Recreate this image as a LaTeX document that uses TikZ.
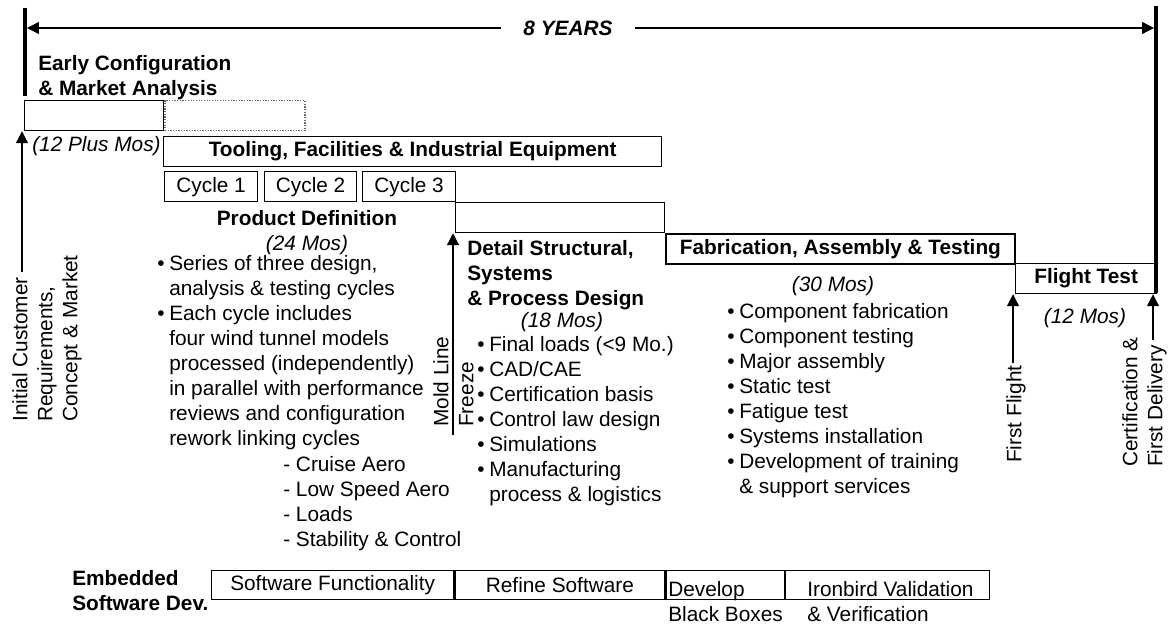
\documentclass[tikz,border=0pt]{standalone}
\usepackage{fontspec}
\setmainfont{Liberation Sans}
\usepackage{tikz}
\usetikzlibrary{arrows.meta,calc}

\newcommand{\fs}{\fontsize{14.8}{17.8}\selectfont}
\newcommand{\bul}{\makebox[0.3cm][l]{\textbullet}}
\newcommand{\ind}{\hspace*{0.3cm}}

\tikzset{
	box/.style={draw, line width=0.9pt, inner sep=0pt, minimum height=0.75cm, anchor=north west, font=\fs},
	dotbox/.style={box, densely dotted, draw=black!60},
	txt/.style={inner sep=0pt, anchor=north west, align=left, font=\fs},
	bold/.style={font=\fs\bfseries},
	ital/.style={font=\fs\itshape},
	arr/.style={line width=0.9pt, -{Triangle[length=8.5pt,width=8.5pt]}},
	bar/.style={line width=2.85pt}
}

\begin{document}
\begin{tikzpicture}[font=\fs]
		\useasboundingbox (0,0) rectangle (29.25,15.65);
		\draw[bar] (0.625,15.45) -- (0.625,13.25);
		\draw[bar] (28.9,15.5) -- (28.9,8.325);
		\coordinate (lefttick) at (0.675,14.95);
		\coordinate (righttick) at (28.85,14.95);
		\node[inner xsep=0.55cm, inner ysep=0pt, font=\fs\bfseries\itshape] (years) at (14.2,14.95) {8 YEARS};
		\draw[arr] (years.west) -- (lefttick);
		\draw[arr] (years.east) -- (righttick);

		\node[box, minimum width=3.475cm] (early) at (0.6,13.15) {};
		\node[dotbox, minimum width=3.5cm] (earlydot) at (early.north east) {};
		\node[txt, bold] (earlytxt) at (0.95,14.275) {Early Configuration\\\& Market Analysis};
		\node[txt, ital] (earlymos) at (0.8,12.25) {(12 Plus Mos)};

		\node[box, bold, minimum width=12.45cm] (tooling) at (4.075,12.25) {Tooling, Facilities \& Industrial Equipment};
		\node[box, minimum width=2.325cm] (cyc1) at (4.1,11.375) {Cycle 1};
		\node[box, minimum width=2.3cm] (cyc2) at (6.6,11.375) {Cycle 2};
		\node[box, minimum width=2.325cm] (cyc3) at (9.05,11.375) {Cycle 3};
		\node[box, minimum width=5.225cm] (detail) at (11.375,10.6) {};
		\node[box, bold, minimum width=8.725cm] (fab) at (detail.south east) {Fabrication, Assembly \& Testing};
		\node[box, bold, minimum width=3.525cm] (flight) at (25.375,9.075) {Flight Test};

		\node[txt, anchor=north, align=center] (pdtxt) at (7.675,10.4) {\textbf{Product Definition}\\\textit{(24 Mos)}};
		\node[txt] (pdlist) at (3.925,9.275) {\bul Series of three design,\\\ind analysis \& testing cycles\\\bul Each cycle includes\\\ind four wind tunnel models\\\ind processed (independently)\\\ind in parallel with performance\\\ind reviews and configuration\\\ind rework linking cycles};
		\node[txt] (pdaero) at (7.075,4.25) {- Cruise Aero\\- Low Speed Aero\\- Loads\\- Stability \& Control};

		\node[txt, bold] (dettxt) at (11.675,9.65) {Detail Structural,\\Systems\\\& Process Design};
		\node[txt, ital, anchor=north] (detmos) at (14.05,7.85) {(18 Mos)};
		\node[txt] (detlist) at (11.925,7.25) {\bul Final loads (<9 Mo.)\\\bul CAD/CAE\\\bul Certification basis\\\bul Control law design\\\bul Simulations\\\bul Manufacturing\\\ind process \& logistics};

		\node[txt, ital, anchor=north] (fabmos) at (20.825,8.75) {(30 Mos)};
		\node[txt] (fablist) at (18.175,8.075) {\bul Component fabrication\\\bul Component testing\\\bul Major assembly\\\bul Static test\\\bul Fatigue test\\\bul Systems installation\\\bul Development of training\\\ind \& support services};
		\node[txt, ital, anchor=north] (flightmos) at (27.125,7.95) {(12 Mos)};

		\node[txt, rotate=90] (icrtxt) at (0.3,5.1) {Initial Customer\\Requirements,\\Concept \& Market};
		\node[txt, rotate=90] (mlftxt) at (10.825,4.975) {Mold Line\\Freeze};
		\node[txt, rotate=90] (fftxt) at (25.15,4.075) {First Flight};
		\node[txt, rotate=90] (cfdtxt) at (28.05,3.975) {Certification \&\\First Delivery};

		\coordinate (icr) at (0.55,8.85);
		\coordinate (mlf) at (11.325,4.775);
		\coordinate (ff) at (25.325,6.575);
		\coordinate (cfd) at (28.825,7.15);
		\draw[arr] (icr) -- (icr |- early.south);
		\draw[arr] (mlf) -- (mlf |- detail.south);
		\draw[arr] (ff) -- (ff |- flight.south);
		\draw[arr] (cfd) -- (cfd |- flight.south);

		\node[txt, bold] (swtxt) at (1.8,1.4) {Embedded\\Software Dev.};
		\node[box, minimum width=6.05cm, minimum height=0.725cm] (swfunc) at (5.275,1.4) {Software Functionality};
		\node[box, minimum width=5.25cm, minimum height=0.725cm] (refine) at (swfunc.north east) {Refine Software};
		\node[box, minimum width=2.95cm, minimum height=0.725cm] (blackbox) at (refine.north east) {};
		\node[box, minimum width=5.1cm, minimum height=0.725cm] (ironbird) at (blackbox.north east) {};
		\node[txt] (bbtxt) at (16.7,1.125) {Develop\\Black Boxes};
		\node[txt] (ibtxt) at (20.175,1.125) {Ironbird Validation\\\& Verification};
	\end{tikzpicture}
\end{document}
